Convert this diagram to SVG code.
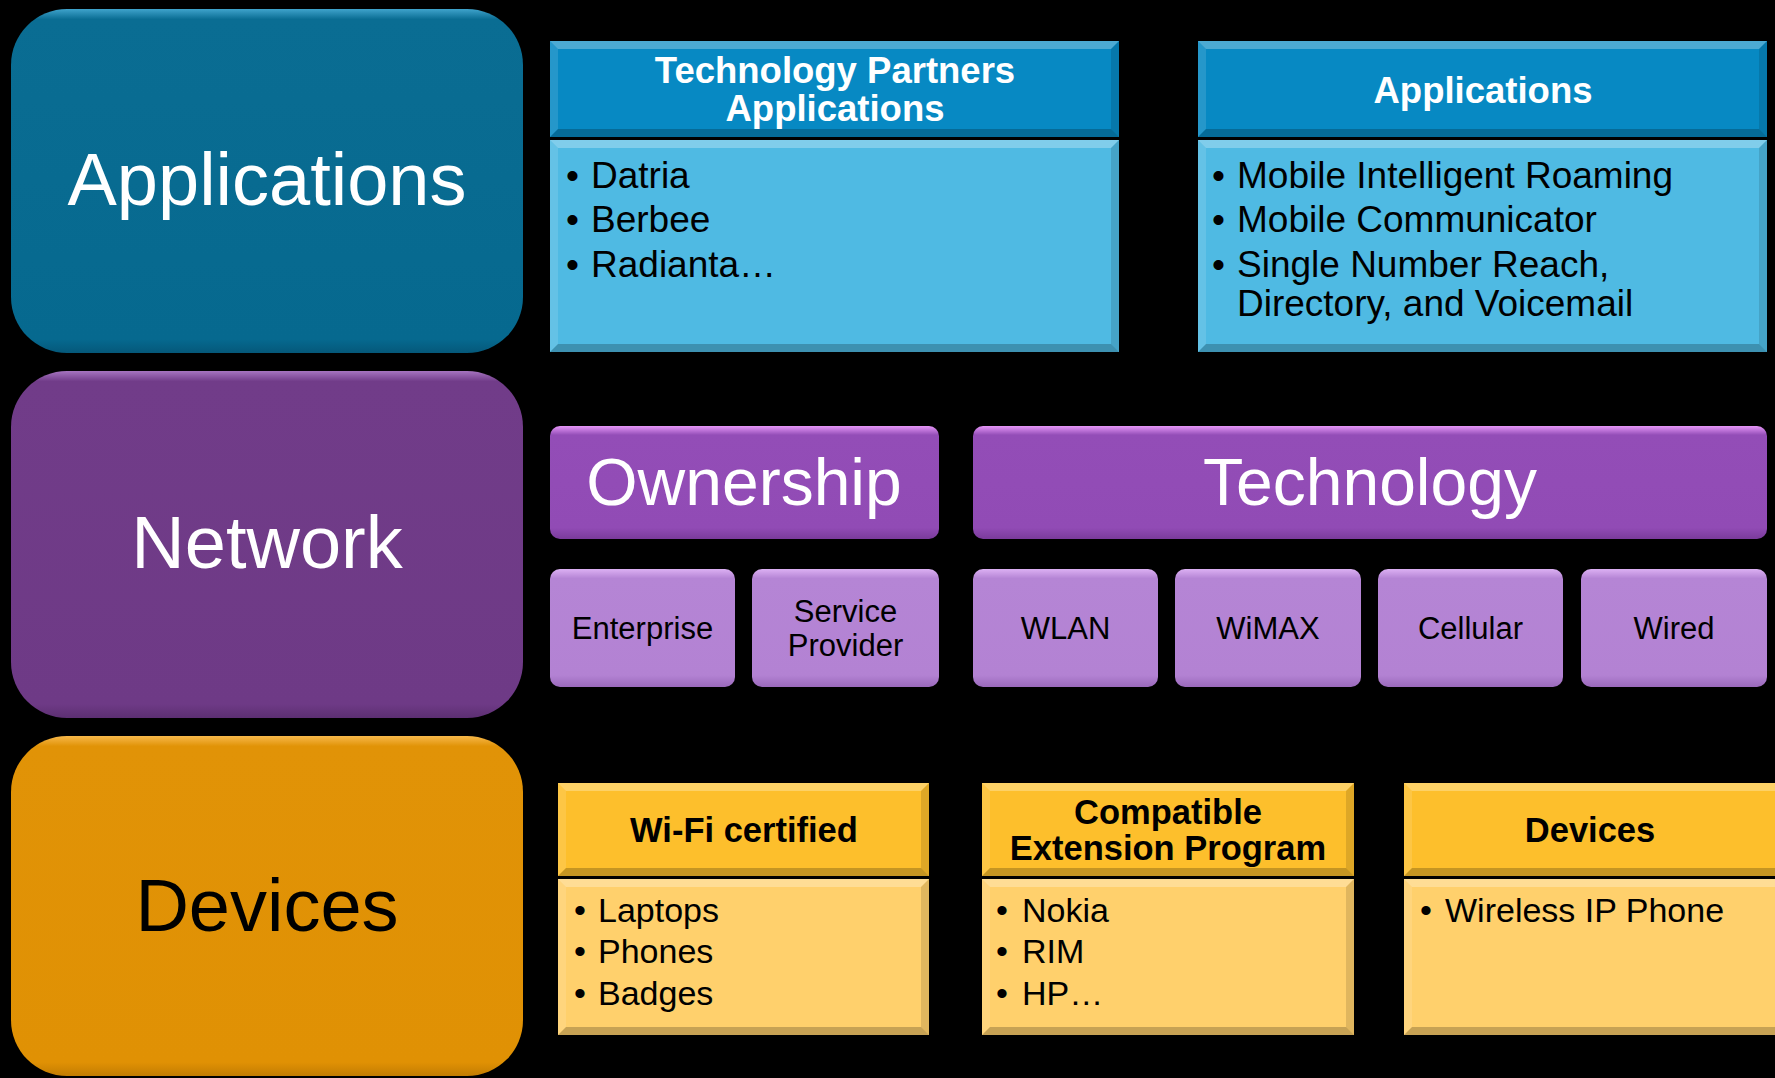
<svg xmlns="http://www.w3.org/2000/svg" width="1775" height="1078" viewBox="0 0 1775 1078">
<style>
text{font-family:"Liberation Sans",Arial,sans-serif}
.big{font-size:74px;text-anchor:middle}
.w{fill:#fff}
.k{fill:#000}
.hdr{font-size:36.5px;font-weight:bold;text-anchor:middle;fill:#fff}
.yhdr{font-size:34.5px;font-weight:bold;text-anchor:middle;fill:#000}
.bul{font-size:37px;fill:#000}
.ybul{font-size:34px;fill:#000}
.mid{font-size:66px;text-anchor:middle;fill:#fff}
.sm{font-size:31px;text-anchor:middle;fill:#000}
.bt{fill:#fff;fill-opacity:.28}
.bl{fill:#fff;fill-opacity:.12}
.br{fill:#000;fill-opacity:.12}
.bb{fill:#000;fill-opacity:.22}
.bh{fill:#0789c3}
.bbody{fill:#4fbae3}
.yh{fill:#fdbf2c}
.ybody{fill:#ffd06c}
</style>
<defs>
<linearGradient id="gApp" x1="0" y1="0" x2="0" y2="1">
<stop offset="0" stop-color="#3fa3cc"/><stop offset="0.03" stop-color="#0a6d93"/><stop offset="0.96" stop-color="#06698f"/><stop offset="1" stop-color="#05587a"/>
</linearGradient>
<linearGradient id="gNet" x1="0" y1="0" x2="0" y2="1">
<stop offset="0" stop-color="#a674c0"/><stop offset="0.03" stop-color="#713c89"/><stop offset="0.96" stop-color="#6e3a86"/><stop offset="1" stop-color="#5c2f72"/>
</linearGradient>
<linearGradient id="gDev" x1="0" y1="0" x2="0" y2="1">
<stop offset="0" stop-color="#f7b84a"/><stop offset="0.03" stop-color="#e19307"/><stop offset="0.96" stop-color="#e09104"/><stop offset="1" stop-color="#c27c02"/>
</linearGradient>
<linearGradient id="gOwn" x1="0" y1="0" x2="0" y2="1">
<stop offset="0" stop-color="#e596f7"/><stop offset="0.08" stop-color="#934db7"/><stop offset="0.9" stop-color="#914bb5"/><stop offset="1" stop-color="#7a3b9b"/>
</linearGradient>
<linearGradient id="gSm" x1="0" y1="0" x2="0" y2="1">
<stop offset="0" stop-color="#dcb0f3"/><stop offset="0.08" stop-color="#b585d5"/><stop offset="0.9" stop-color="#b382d3"/><stop offset="1" stop-color="#9a69bb"/>
</linearGradient>
</defs>
<rect x="0" y="0" width="1775" height="1078" fill="#000"/>

<g id="layer-applications">
<rect x="11" y="9" width="512" height="344" rx="56" fill="url(#gApp)"/>
<text class="big w" x="267" y="205">Applications</text>
</g>
<g id="layer-network">
<rect x="11" y="371" width="512" height="347" rx="56" fill="url(#gNet)"/>
<text class="big w" x="267" y="568">Network</text>
</g>
<g id="layer-devices">
<rect x="11" y="736" width="512" height="340" rx="56" fill="url(#gDev)"/>
<text class="big k" x="267" y="931">Devices</text>
</g>

<g id="tech-partners-apps">
<rect class="bh" x="550" y="41" width="569" height="96"/>
<polygon class="bt" points="550,41 1119,41 1111,49 558,49"/>
<polygon class="bl" points="550,41 558,49 558,129 550,137"/>
<polygon class="br" points="1119,41 1119,137 1111,129 1111,49"/>
<polygon class="bb" points="550,137 558,129 1111,129 1119,137"/>
<rect class="bbody" x="550" y="140" width="569" height="212"/>
<polygon class="bt" points="550,140 1119,140 1111,148 558,148"/>
<polygon class="bl" points="550,140 558,148 558,344 550,352"/>
<polygon class="br" points="1119,140 1119,352 1111,344 1111,148"/>
<polygon class="bb" points="550,352 558,344 1111,344 1119,352"/>
<text class="hdr" x="835" y="83">Technology Partners</text>
<text class="hdr" x="835" y="121">Applications</text>
<text class="bul" y="188"><tspan x="566">•</tspan><tspan x="591">Datria</tspan></text>
<text class="bul" y="232"><tspan x="566">•</tspan><tspan x="591">Berbee</tspan></text>
<text class="bul" y="277"><tspan x="566">•</tspan><tspan x="591">Radianta…</tspan></text>
</g>

<g id="applications-table">
<rect class="bh" x="1198" y="41" width="569" height="96"/>
<polygon class="bt" points="1198,41 1767,41 1759,49 1206,49"/>
<polygon class="bl" points="1198,41 1206,49 1206,129 1198,137"/>
<polygon class="br" points="1767,41 1767,137 1759,129 1759,49"/>
<polygon class="bb" points="1198,137 1206,129 1759,129 1767,137"/>
<rect class="bbody" x="1198" y="140" width="569" height="212"/>
<polygon class="bt" points="1198,140 1767,140 1759,148 1206,148"/>
<polygon class="bl" points="1198,140 1206,148 1206,344 1198,352"/>
<polygon class="br" points="1767,140 1767,352 1759,344 1759,148"/>
<polygon class="bb" points="1198,352 1206,344 1759,344 1767,352"/>
<text class="hdr" x="1483" y="103">Applications</text>
<text class="bul" y="188"><tspan x="1212">•</tspan><tspan x="1237">Mobile Intelligent Roaming</tspan></text>
<text class="bul" y="232"><tspan x="1212">•</tspan><tspan x="1237">Mobile Communicator</tspan></text>
<text class="bul" y="277"><tspan x="1212">•</tspan><tspan x="1237">Single Number Reach,</tspan></text>
<text class="bul" x="1237" y="316">Directory, and Voicemail</text>
</g>

<g id="ownership">
<rect x="550" y="426" width="389" height="113" rx="10" fill="url(#gOwn)"/>
<text class="mid" x="744" y="505">Ownership</text>
</g>
<g id="technology">
<rect x="973" y="426" width="794" height="113" rx="10" fill="url(#gOwn)"/>
<text class="mid" x="1370" y="505">Technology</text>
</g>
<g id="enterprise">
<rect x="550" y="569" width="185" height="118" rx="10" fill="url(#gSm)"/>
<text class="sm" x="642.5" y="639">Enterprise</text>
</g>
<g id="service-provider">
<rect x="752" y="569" width="187" height="118" rx="10" fill="url(#gSm)"/>
<text class="sm" x="845.5" y="622">Service</text>
<text class="sm" x="845.5" y="656">Provider</text>
</g>
<g id="wlan">
<rect x="973" y="569" width="185" height="118" rx="10" fill="url(#gSm)"/>
<text class="sm" x="1065.5" y="639">WLAN</text>
</g>
<g id="wimax">
<rect x="1175" y="569" width="186" height="118" rx="10" fill="url(#gSm)"/>
<text class="sm" x="1268" y="639">WiMAX</text>
</g>
<g id="cellular">
<rect x="1378" y="569" width="185" height="118" rx="10" fill="url(#gSm)"/>
<text class="sm" x="1470.5" y="639">Cellular</text>
</g>
<g id="wired">
<rect x="1581" y="569" width="186" height="118" rx="10" fill="url(#gSm)"/>
<text class="sm" x="1674" y="639">Wired</text>
</g>

<g id="wifi-certified">
<rect class="yh" x="558" y="783" width="371" height="93"/>
<polygon class="bt" points="558,783 929,783 921,791 566,791"/>
<polygon class="bl" points="558,783 566,791 566,868 558,876"/>
<polygon class="br" points="929,783 929,876 921,868 921,791"/>
<polygon class="bb" points="558,876 566,868 921,868 929,876"/>
<rect class="ybody" x="558" y="879" width="371" height="156"/>
<polygon class="bt" points="558,879 929,879 921,887 566,887"/>
<polygon class="bl" points="558,879 566,887 566,1027 558,1035"/>
<polygon class="br" points="929,879 929,1035 921,1027 921,887"/>
<polygon class="bb" points="558,1035 566,1027 921,1027 929,1035"/>
<text class="yhdr" x="744" y="842">Wi-Fi certified</text>
<text class="ybul" y="922"><tspan x="574">•</tspan><tspan x="598">Laptops</tspan></text>
<text class="ybul" y="963"><tspan x="574">•</tspan><tspan x="598">Phones</tspan></text>
<text class="ybul" y="1005"><tspan x="574">•</tspan><tspan x="598">Badges</tspan></text>
</g>

<g id="compatible-extension">
<rect class="yh" x="982" y="783" width="372" height="93"/>
<polygon class="bt" points="982,783 1354,783 1346,791 990,791"/>
<polygon class="bl" points="982,783 990,791 990,868 982,876"/>
<polygon class="br" points="1354,783 1354,876 1346,868 1346,791"/>
<polygon class="bb" points="982,876 990,868 1346,868 1354,876"/>
<rect class="ybody" x="982" y="879" width="372" height="156"/>
<polygon class="bt" points="982,879 1354,879 1346,887 990,887"/>
<polygon class="bl" points="982,879 990,887 990,1027 982,1035"/>
<polygon class="br" points="1354,879 1354,1035 1346,1027 1346,887"/>
<polygon class="bb" points="982,1035 990,1027 1346,1027 1354,1035"/>
<text class="yhdr" x="1168" y="824">Compatible</text>
<text class="yhdr" x="1168" y="860">Extension Program</text>
<text class="ybul" y="922"><tspan x="996">•</tspan><tspan x="1022">Nokia</tspan></text>
<text class="ybul" y="963"><tspan x="996">•</tspan><tspan x="1022">RIM</tspan></text>
<text class="ybul" y="1005"><tspan x="996">•</tspan><tspan x="1022">HP…</tspan></text>
</g>

<g id="devices-table">
<rect class="yh" x="1404" y="783" width="380" height="93"/>
<polygon class="bt" points="1404,783 1784,783 1776,791 1412,791"/>
<polygon class="bl" points="1404,783 1412,791 1412,868 1404,876"/>
<polygon class="bb" points="1404,876 1412,868 1776,868 1784,876"/>
<rect class="ybody" x="1404" y="879" width="380" height="156"/>
<polygon class="bt" points="1404,879 1784,879 1776,887 1412,887"/>
<polygon class="bl" points="1404,879 1412,887 1412,1027 1404,1035"/>
<polygon class="bb" points="1404,1035 1412,1027 1776,1027 1784,1035"/>
<text class="yhdr" x="1590" y="842">Devices</text>
<text class="ybul" y="922"><tspan x="1420">•</tspan><tspan x="1445">Wireless IP Phone</tspan></text>
</g>

<g id="connectors"></g>
</svg>
